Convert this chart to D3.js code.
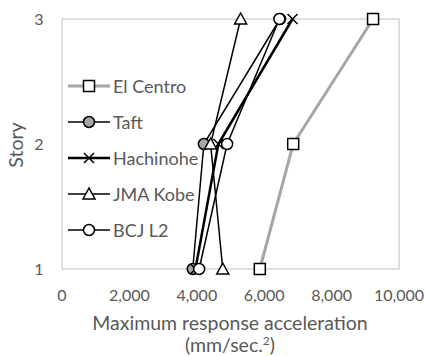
<!DOCTYPE html>
<html>
<head>
<meta charset="utf-8">
<script src="https://cdn.jsdelivr.net/npm/d3@7"></script>
<style>
  body { margin: 0; background: #fff; }
  text { font-family: Lato, "Open Sans", sans-serif; fill: #595959; }
</style>
</head>
<body>
<div id="chart"></div>
<script>
// stories on the y axis
const stories = [1, 2, 3];
const xTicks = [0, 2000, 4000, 6000, 8000, 10000];

// max response acceleration per story (1, 2, 3)
const elCentro = [5870, 6860, 9230];
const taft = [3880, 4210, 6470];
const hachinohe = [3960, 4640, 6840];
const jmaKobe = [4770, 4410, 5300];
const bcjL2 = [4070, 4900, 6450];

const seriesNames = ["El Centro", "Taft", "Hachinohe", "JMA Kobe", "BCJ L2"];
const seriesValues = [elCentro, taft, hachinohe, jmaKobe, bcjL2];
const seriesStyle = [
  { color: "#a6a6a6", width: 3, marker: "square" },
  { color: "#000", width: 1.5, marker: "circleFill" },
  { color: "#000", width: 2.5, marker: "cross" },
  { color: "#000", width: 1.5, marker: "triangle" },
  { color: "#000", width: 1.5, marker: "circle" }
];

const W = 426, H = 356;
const margin = { top: 19, right: 27, bottom: 87, left: 62 };
const width = W - margin.left - margin.right;
const height = H - margin.top - margin.bottom;

const svg = d3.select("#chart").append("svg")
  .attr("width", W).attr("height", H);

const g = svg.append("g")
  .attr("transform", `translate(${margin.left},${margin.top})`);

const x = d3.scaleLinear().domain([0, 10000]).range([0, width]);
const y = d3.scaleLinear().domain([1, 3]).range([height, 0]);

// plot frame
g.append("rect")
  .attr("width", width).attr("height", height)
  .attr("fill", "none").attr("stroke", "#bfbfbf").attr("stroke-width", 1);

// x tick labels
g.selectAll(".xtick").data(xTicks).enter().append("text")
  .attr("class", "xtick")
  .attr("x", d => x(d)).attr("y", height + 32)
  .attr("text-anchor", "middle")
  .style("font-size", "16px")
  .text(d => d3.format(",")(d));

// y tick labels
g.selectAll(".ytick").data(stories).enter().append("text")
  .attr("class", "ytick")
  .attr("x", -23).attr("y", d => y(d) + 6)
  .attr("text-anchor", "middle")
  .style("font-size", "16px")
  .text(d => d);

// axis titles
svg.append("text")
  .attr("x", 230).attr("y", 330)
  .attr("text-anchor", "middle")
  .style("font-size", "19.5px")
  .text("Maximum response acceleration");
const unit = svg.append("text")
  .attr("x", 230).attr("y", 352)
  .attr("text-anchor", "middle")
  .style("font-size", "19.5px");
unit.append("tspan").text("(mm/sec.");
unit.append("tspan").attr("dy", -7).style("font-size", "12px").text("2");
unit.append("tspan").attr("dy", 7).text(")");

svg.append("text")
  .attr("transform", "translate(23,145) rotate(-90)")
  .attr("text-anchor", "middle")
  .style("font-size", "19.5px")
  .text("Story");

function drawMarker(sel, type) {
  if (type === "square") {
    sel.append("rect").attr("x", -5.5).attr("y", -5.5).attr("width", 11).attr("height", 11)
      .attr("fill", "#fff").attr("stroke", "#000").attr("stroke-width", 1.5);
  } else if (type === "circleFill") {
    sel.append("circle").attr("r", 5.5).attr("fill", "#a6a6a6")
      .attr("stroke", "#000").attr("stroke-width", 1.5);
  } else if (type === "circle") {
    sel.append("circle").attr("r", 5.5).attr("fill", "#fff")
      .attr("stroke", "#000").attr("stroke-width", 1.5);
  } else if (type === "triangle") {
    sel.append("path").attr("d", "M0,-6L6,5L-6,5Z").attr("fill", "#fff")
      .attr("stroke", "#000").attr("stroke-width", 1.5);
  } else if (type === "cross") {
    sel.append("path").attr("d", "M-5,-5L5,5M-5,5L5,-5").attr("fill", "none")
      .attr("stroke", "#000").attr("stroke-width", 1.5);
  }
}

const line = d3.line().x(d => x(d.v)).y(d => y(d.s));

seriesNames.forEach((name, i) => {
  const pts = seriesValues[i].map((v, k) => ({ v: v, s: stories[k] }));
  const st = seriesStyle[i];
  g.append("path").datum(pts)
    .attr("d", line)
    .attr("fill", "none")
    .attr("stroke", st.color)
    .attr("stroke-width", st.width);
  pts.forEach(p => {
    const m = g.append("g").attr("transform", `translate(${x(p.v)},${y(p.s)})`);
    drawMarker(m, st.marker);
  });
});

// legend
const legend = svg.append("g").attr("class", "legend");
seriesNames.forEach((name, i) => {
  const st = seriesStyle[i];
  const ly = 86 + i * 36;
  legend.append("line")
    .attr("x1", 68).attr("x2", 110).attr("y1", ly).attr("y2", ly)
    .attr("stroke", st.color).attr("stroke-width", st.width);
  const m = legend.append("g").attr("transform", `translate(89,${ly})`);
  drawMarker(m, st.marker);
  legend.append("text")
    .attr("x", 113).attr("y", ly + 7)
    .style("font-size", "18px")
    .text(name);
});
</script>
</body>
</html>
